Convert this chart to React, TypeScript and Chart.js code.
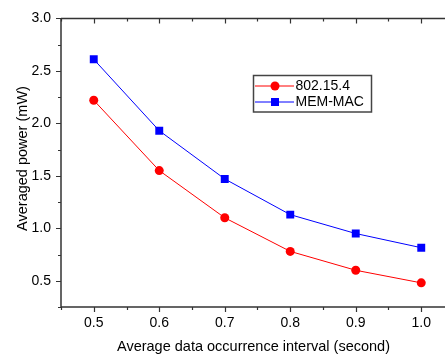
import React, { useEffect, useRef } from 'react';
import { Chart, registerables } from 'chart.js';

Chart.register(...registerables);

const intervals = [0.5, 0.6, 0.7, 0.8, 0.9, 1.0];
const power802154 = [2.22, 1.55, 1.10, 0.78, 0.60, 0.48];
const powerMemMac = [2.61, 1.93, 1.47, 1.13, 0.95, 0.815];
const seriesNames = ['802.15.4', 'MEM-MAC'];
const seriesColors = ['#ff0000', '#0000ff'];
const xMajorTicks = [0.5, 0.6, 0.7, 0.8, 0.9, 1.0];
const xMinorTicks = [0.45, 0.55, 0.65, 0.75, 0.85, 0.95, 1.05];
const yMajorTicks = [0.5, 1.0, 1.5, 2.0, 2.5, 3.0];
const yMinorTicks = [0.25, 0.75, 1.25, 1.75, 2.25, 2.75];
const xTitle = 'Average data occurrence interval (second)';
const yTitle = 'Averaged power (mW)';

const FONT = "'Liberation Sans', Arial, sans-serif";

const framePlugin = {
  id: 'originFrame',
  afterDraw(chart: any) {
    const { ctx, chartArea } = chart;
    const xs = chart.scales.x;
    const ys = chart.scales.y;
    const L = chartArea.left, R = chartArea.right, T = chartArea.top, B = chartArea.bottom;
    ctx.save();
    ctx.strokeStyle = '#333';
    ctx.lineWidth = 1.5;
    ctx.beginPath();
    ctx.moveTo(L, B); ctx.lineTo(R, B);
    ctx.moveTo(L, T); ctx.lineTo(R, T);
    ctx.moveTo(L, T); ctx.lineTo(L, B);
    ctx.moveTo(R, T); ctx.lineTo(R, B);
    ctx.stroke();
    ctx.lineWidth = 1.2;
    ctx.beginPath();
    const xt = (v: number, len: number) => {
      const p = Math.round(xs.getPixelForValue(v)) + 0.5;
      ctx.moveTo(p, B); ctx.lineTo(p, B + len);
      ctx.moveTo(p, T); ctx.lineTo(p, T + len);
    };
    xMajorTicks.forEach((v) => xt(v, 5));
    xMinorTicks.forEach((v) => xt(v, 3));
    const yt = (v: number, len: number) => {
      const p = Math.round(ys.getPixelForValue(v)) + 0.5;
      ctx.moveTo(L, p); ctx.lineTo(L - len, p);
      ctx.moveTo(R, p); ctx.lineTo(R - len, p);
    };
    yMajorTicks.forEach((v) => yt(v, 5));
    yMinorTicks.forEach((v) => yt(v, 3));
    ctx.stroke();

    // axis titles
    ctx.fillStyle = '#000';
    ctx.font = `14.5px ${FONT}`;
    ctx.textBaseline = 'alphabetic';
    ctx.textAlign = 'left';
    ctx.fillText(xTitle, 117, 350.7);
    const yw = ctx.measureText(yTitle).width;
    ctx.save();
    ctx.translate(26.5, 158.5 + yw / 2);
    ctx.rotate(-Math.PI / 2);
    ctx.fillText(yTitle, 0, 0);
    ctx.restore();

    // legend
    const bx = 253.5, by = 75.5, bw = 118, bh = 36.5;
    ctx.strokeStyle = '#444';
    ctx.lineWidth = 1.5;
    ctx.strokeRect(bx, by, bw, bh);
    const rows = [86, 102];
    chart.data.datasets.forEach((ds: any, i: number) => {
      const y = rows[i];
      ctx.strokeStyle = ds.borderColor;
      ctx.lineWidth = 1;
      ctx.beginPath();
      ctx.moveTo(255, y); ctx.lineTo(294, y);
      ctx.stroke();
      ctx.fillStyle = ds.backgroundColor;
      if (ds.pointStyle === 'rect') {
        ctx.fillRect(275 - 4, y - 4, 8, 8);
      } else {
        ctx.beginPath();
        ctx.arc(275, y, 4.5, 0, Math.PI * 2);
        ctx.fill();
      }
      ctx.fillStyle = '#000';
      ctx.font = `14px ${FONT}`;
      ctx.textBaseline = 'middle';
      ctx.textAlign = 'left';
      ctx.fillText(ds.label, 295.5, y + 0.5);
    });
    ctx.restore();
  },
};

export default function App() {
  const ref = useRef<HTMLCanvasElement | null>(null);
  useEffect(() => {
    if (!ref.current) return;
    const chart = new Chart(ref.current, {
      type: 'line',
      data: {
        datasets: [
          {
            label: seriesNames[0],
            data: intervals.map((x, i) => ({ x, y: power802154[i] })),
            borderColor: seriesColors[0],
            backgroundColor: seriesColors[0],
            borderWidth: 1,
            pointStyle: 'circle',
            pointRadius: 4.5,
            pointBorderWidth: 0,
          },
          {
            label: seriesNames[1],
            data: intervals.map((x, i) => ({ x, y: powerMemMac[i] })),
            borderColor: seriesColors[1],
            backgroundColor: seriesColors[1],
            borderWidth: 1,
            pointStyle: 'rect',
            pointRadius: 5.6,
            pointBorderWidth: 0,
          },
        ],
      },
      options: {
        responsive: false,
        animation: false,
        layout: { padding: { top: 14, right: 16, left: 0, bottom: 0 } },
        plugins: { legend: { display: false }, tooltip: { enabled: false } },
        scales: {
          x: {
            type: 'linear',
            min: 0.45,
            max: 1.05,
            afterBuildTicks: (s: any) => {
              s.ticks = xMajorTicks.map((v) => ({ value: v }));
            },
            afterFit: (s: any) => {
              s.height = 49;
            },
            grid: { display: false, drawTicks: false },
            border: { display: false },
            ticks: {
              color: '#000',
              padding: 8,
              maxRotation: 0,
              autoSkip: false,
              font: { family: FONT, size: 14 },
              callback: (v: any) => Number(v).toFixed(1),
            },
            title: { display: false },
          },
          y: {
            type: 'linear',
            min: 0.25,
            max: 3.0,
            afterBuildTicks: (s: any) => {
              s.ticks = yMajorTicks.map((v) => ({ value: v }));
            },
            afterFit: (s: any) => {
              s.width = 61;
            },
            grid: { display: false, drawTicks: false },
            border: { display: false },
            ticks: {
              color: '#000',
              padding: 10,
              autoSkip: false,
              font: { family: FONT, size: 14 },
              callback: (v: any) => Number(v).toFixed(1),
            },
            title: { display: false },
          },
        },
      },
      plugins: [framePlugin],
    });
    return () => chart.destroy();
  }, []);
  return (
    <div
      style={{
        position: 'absolute',
        left: 0,
        top: 0,
        width: 445,
        height: 356,
        overflow: 'hidden',
        background: '#fff',
      }}
    >
      <canvas ref={ref} width={470} height={356} style={{ display: 'block' }} />
    </div>
  );
}
